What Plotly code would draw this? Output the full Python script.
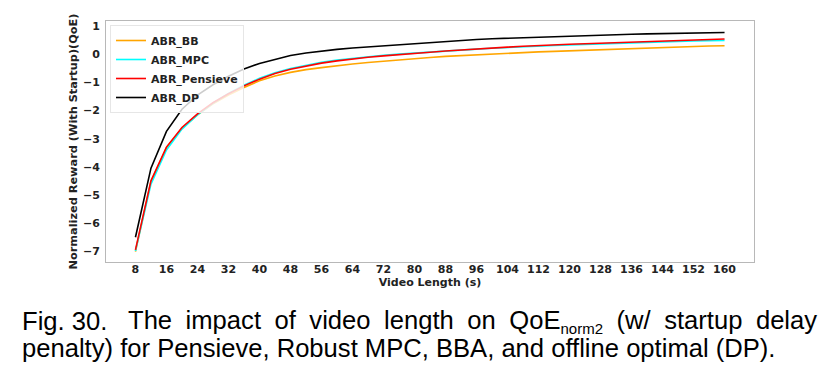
import plotly.graph_objects as go

video_length = [8, 12, 16, 20, 24, 28, 32, 36, 40, 44, 48, 52, 56, 60, 64, 68, 72, 76, 80,
                84, 88, 92, 96, 100, 104, 108, 112, 116, 120, 124, 128, 132, 136, 140, 144,
                148, 152, 156, 160]

abr_bb = [-7.02, -4.52, -3.32, -2.63, -2.15, -1.76, -1.45, -1.18, -0.94, -0.77, -0.64, -0.54,
          -0.47, -0.40, -0.34, -0.29, -0.24, -0.19, -0.15, -0.11, -0.07, -0.04, -0.01, 0.02,
          0.04, 0.07, 0.09, 0.11, 0.13, 0.15, 0.18, 0.20, 0.22, 0.24, 0.25, 0.27, 0.28, 0.30, 0.31]

abr_mpc = [-7.00, -4.62, -3.40, -2.66, -2.15, -1.73, -1.39, -1.10, -0.85, -0.65, -0.50, -0.38,
           -0.28, -0.20, -0.14, -0.08, -0.03, 0.01, 0.05, 0.09, 0.12, 0.15, 0.19, 0.22,
           0.25, 0.27, 0.30, 0.32, 0.34, 0.36, 0.38, 0.40, 0.42, 0.44, 0.45, 0.47, 0.48, 0.49, 0.50]

abr_pensieve = [-6.96, -4.50, -3.30, -2.60, -2.12, -1.72, -1.40, -1.12, -0.88, -0.68, -0.53, -0.41,
                -0.31, -0.23, -0.16, -0.10, -0.05, 0.00, 0.04, 0.08, 0.12, 0.16, 0.20, 0.23,
                0.26, 0.29, 0.32, 0.34, 0.36, 0.38, 0.40, 0.42, 0.44, 0.46, 0.48, 0.50, 0.52, 0.53, 0.55]

abr_dp = [-6.51, -4.05, -2.74, -1.95, -1.45, -1.08, -0.78, -0.52, -0.32, -0.17, -0.04, 0.05,
          0.12, 0.18, 0.23, 0.27, 0.31, 0.35, 0.39, 0.43, 0.47, 0.50, 0.53, 0.56,
          0.58, 0.60, 0.62, 0.64, 0.66, 0.67, 0.69, 0.70, 0.72, 0.73, 0.74, 0.75, 0.76, 0.77, 0.78]

x_ticks = [8, 16, 24, 32, 40, 48, 56, 64, 72, 80, 88, 96, 104, 112, 120, 128, 136, 144, 152, 160]
y_ticks = [-7, -6, -5, -4, -3, -2, -1, 0, 1]

series = [
    ("ABR_BB", abr_bb, "orange"),
    ("ABR_MPC", abr_mpc, "cyan"),
    ("ABR_Pensieve", abr_pensieve, "red"),
    ("ABR_DP", abr_dp, "black"),
]

caption_line1_words = ["The", "impact", "of", "video", "length", "on",
                       "QoE<sub><span style='font-size:15px'>norm2</span></sub>",
                       "(w/", "startup", "delay"]
caption_line2 = "penalty) for Pensieve, Robust MPC, BBA, and offline optimal (DP)."

W, H = 837, 369
L, R, T, B = 106, 83, 21, 107
pw, ph = W - L - R, H - T - B

bold = "DejaVu Sans"
fig = go.Figure()
for name, vals, color in series:
    fig.add_trace(go.Scatter(x=video_length, y=vals, mode="lines", name=name,
                             line=dict(color=color, width=1.6)))

axis_common = dict(showgrid=False, zeroline=False, showline=True, mirror=True,
                   linecolor="#b8b8b8", linewidth=1, ticks="", automargin=False,
                   tickfont=dict(family=bold, size=11, color="#222", weight="bold"))

fig.update_xaxes(range=[0.4, 167.6], tickvals=x_ticks, ticklabelstandoff=-3,
                 title=dict(text="<b>Video Length (s)</b>", font=dict(family=bold, size=11, color="#222"),
                            standoff=1),
                 **axis_common)
fig.update_yaxes(range=[-7.39, 1.19], tickvals=y_ticks, ticklabelstandoff=3,
                 title=dict(text="<b>Normalized Reward (With Startup)(QoE)</b>",
                            font=dict(family=bold, size=11.3, color="#222"), standoff=2),
                 **axis_common)

def px_x(p):
    return (p - L) / pw

def px_y(p):
    return (H - B - p) / ph

cap_font = dict(family="Liberation Sans", size=25.6, color="black")
fig.add_annotation(text="Fig. 30.", xref="paper", yref="paper", x=px_x(20), y=px_y(321),
                   xanchor="left", yanchor="middle", showarrow=False, font=cap_font)
fig.add_annotation(text=" \u2005".join(caption_line1_words),
                   xref="paper", yref="paper", x=px_x(819), y=px_y(321),
                   xanchor="right", yanchor="middle", showarrow=False, font=cap_font)
fig.add_annotation(text=caption_line2,
                   xref="paper", yref="paper", x=px_x(20), y=px_y(348),
                   xanchor="left", yanchor="middle", showarrow=False, font=cap_font)

fig.update_layout(
    width=W, height=H,
    margin=dict(l=L, r=R, t=T, b=B, pad=0),
    paper_bgcolor="white", plot_bgcolor="white",
    legend=dict(x=px_x(110), y=px_y(25), xanchor="left", yanchor="top",
                bgcolor="rgba(255,255,255,0.8)", bordercolor="#e6e6e6", borderwidth=1,
                font=dict(family=bold, size=11, color="#222", weight="bold"),
                tracegroupgap=0, itemwidth=30),
    showlegend=True,
)

fig.write_html("out.html", config={"displayModeBar": False},
               post_script="document.body.style.margin='0';document.body.style.overflow='hidden';")
